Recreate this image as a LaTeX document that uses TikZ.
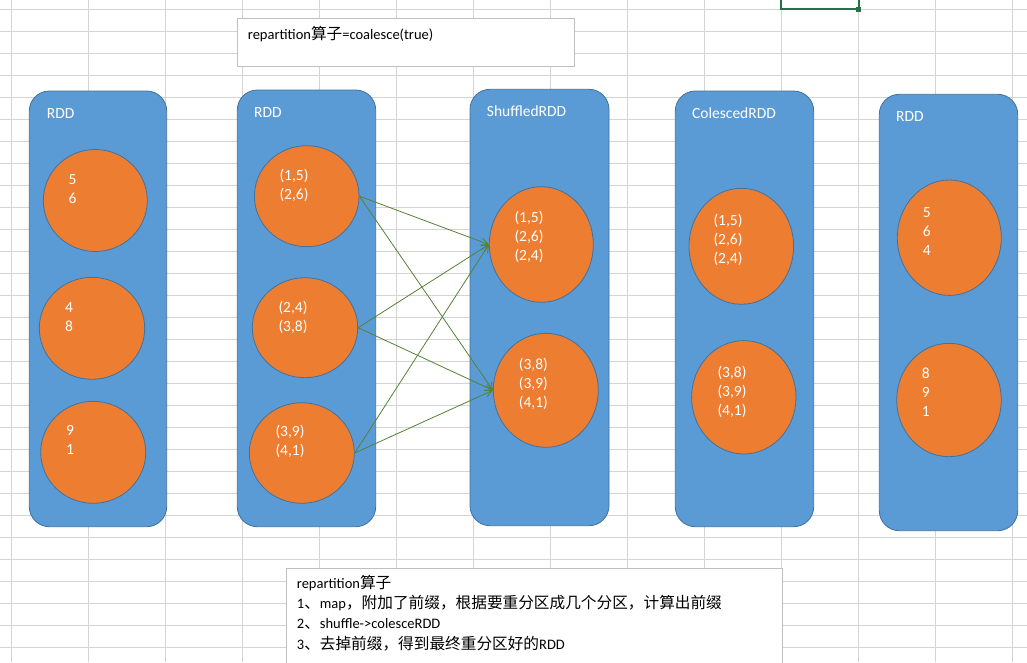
\documentclass[tikz,border=0pt]{standalone}
\usepackage{fontspec}
\setmainfont{Carlito}
\newfontfamily\cjk{Noto Sans CJK SC}[Scale=1.08]
\usetikzlibrary{shapes.geometric,arrows.meta}
\definecolor{gridc}{HTML}{D4D4D4}
\definecolor{boxfill}{HTML}{5B9BD5}
\definecolor{boxline}{HTML}{41719C}
\definecolor{partfill}{HTML}{ED7D31}
\definecolor{arrowc}{HTML}{548235}
\definecolor{selc}{HTML}{217346}
\definecolor{tboxline}{HTML}{BFBFBF}
\newcommand\zh[1]{{\cjk #1}}
\newcommand\stk[1]{\begin{tabular}[t]{@{}l@{}}#1\end{tabular}}
\tikzset{
  rddbox/.style={draw=boxline, fill=boxfill, line width=0.8pt, rounded corners=20pt, inner sep=0pt},
  partc/.style={ellipse, draw=boxline, fill=partfill, line width=0.8pt, inner sep=0pt},
  wlabel/.style={text=white, inner sep=0pt, anchor=base west, font=\fontsize{15.5}{19}\selectfont},
  tbox/.style={draw=tboxline, fill=white, line width=0.8pt, inner sep=0pt},
  btext/.style={text=black, inner sep=0pt, anchor=base west, font=\fontsize{14.5}{20.2}\selectfont},
  flow/.style={draw=arrowc, line width=0.8pt, -{Straight Barb[length=7pt,width=7pt]}},
}
\begin{document}
\begin{tikzpicture}[x=1pt,y=-1pt]
\useasboundingbox (0,0) rectangle (1027,662);
\clip (0,0) rectangle (1027,662);
% spreadsheet grid
\foreach \k in {0,...,13} \draw[gridc, line width=0.8pt] ({11.7+77*\k},0) -- ({11.7+77*\k},662);
\foreach \k in {0,...,29} \draw[gridc, line width=0.8pt] (0,{9.3+22*\k}) -- (1027,{9.3+22*\k});
% selected cell
\draw[selc, line width=2pt] (781.3,-2) -- (781.3,9.3) -- (858.7,9.3) -- (858.7,-2);
\fill[selc] (856.2,6.6) rectangle (861.2,11.6);

% top text box
\node[tbox, minimum width=337pt, minimum height=47.7pt] (T1) at (405.8,42.15) {};
\node[btext] (T1t) at (247.7,39.5) {repartition\zh{算子}=coalesce(true)};

% boxes
\node[rddbox, minimum width=137.4pt, minimum height=435.7pt] (B1) at (98,308.85) {};
\node[rddbox, minimum width=138.4pt, minimum height=436.7pt] (B2) at (306.5,308.35) {};
\node[rddbox, minimum width=139pt, minimum height=436.4pt] (B3) at (539.5,307.5) {};
\node[rddbox, minimum width=138.4pt, minimum height=435.7pt] (B4) at (744.5,308.85) {};
\node[rddbox, minimum width=138.4pt, minimum height=436.4pt] (B5) at (948.5,312.5) {};

\node[wlabel] (L1) at (46.7,118.3) {RDD};
\node[wlabel] (L2) at (254,117) {RDD};
\node[wlabel] (L3) at (486.7,116) {ShuffledRDD};
\node[wlabel] (L4) at (692,118.3) {ColescedRDD};
\node[wlabel] (L5) at (896,121) {RDD};

% partitions
\node[partc, minimum width=104pt, minimum height=102pt] (P11) at (95.3,200.5) {};
\node[partc, minimum width=105.4pt, minimum height=102pt] (P12) at (92,328.3) {};
\node[partc, minimum width=105pt, minimum height=102pt] (P13) at (93.2,452.3) {};

\node[partc, minimum width=104.6pt, minimum height=101pt] (P21) at (306.7,196.2) {};
\node[partc, minimum width=105.4pt, minimum height=100pt] (P22) at (305,327.7) {};
\node[partc, minimum width=105pt, minimum height=100.6pt] (P23) at (301.8,453) {};

\node[partc, minimum width=104pt, minimum height=115.6pt] (P31) at (541.3,244.5) {};
\node[partc, minimum width=105pt, minimum height=114pt] (P32) at (545.8,390.3) {};

\node[partc, minimum width=104.6pt, minimum height=116pt] (P41) at (741.3,246.3) {};
\node[partc, minimum width=104.4pt, minimum height=113.4pt] (P42) at (743.8,397.3) {};

\node[partc, minimum width=104pt, minimum height=115.4pt] (P51) at (949.3,237.7) {};
\node[partc, minimum width=104.6pt, minimum height=113.4pt] (P52) at (949,400) {};

% partition contents
\node[wlabel] (X11) at (68.3,184.2) {\stk{5\\6}};
\node[wlabel] (X12) at (65,312.6) {\stk{4\\8}};
\node[wlabel] (X13) at (66,435.6) {\stk{9\\1}};

\node[wlabel] (X21) at (279.3,180.3) {\stk{(1,5)\\(2,6)}};
\node[wlabel] (X22) at (278.3,312.3) {\stk{(2,4)\\(3,8)}};
\node[wlabel] (X23) at (275.3,436.9) {\stk{(3,9)\\(4,1)}};

\node[wlabel] (X31) at (514.3,222.9) {\stk{(1,5)\\(2,6)\\(2,4)}};
\node[wlabel] (X32) at (518.7,369.9) {\stk{(3,8)\\(3,9)\\(4,1)}};

\node[wlabel] (X41) at (713.3,225.3) {\stk{(1,5)\\(2,6)\\(2,4)}};
\node[wlabel] (X42) at (717.3,377.3) {\stk{(3,8)\\(3,9)\\(4,1)}};

\node[wlabel] (X51) at (922.7,217.2) {\stk{5\\6\\4}};
\node[wlabel] (X52) at (921.7,378.9) {\stk{8\\9\\1}};

% shuffle arrows
\foreach \s in {P21,P22,P23} {
  \draw[flow] (\s.east) -- (P31.west);
  \draw[flow] (\s.east) -- (P32.west);
}

% bottom text box
\node[tbox, minimum width=496.3pt, minimum height=101.7pt] (T2) at (534.15,619.15) {};
\node[btext] (T2t) at (296.7,588.5) {\begin{tabular}[t]{@{}l@{}}
repartition\zh{算子}\\
1\zh{、}map\zh{，附加了前缀，根据要重分区成几个分区，计算出前缀}\\
2\zh{、}shuffle->colesceRDD\\
3\zh{、去掉前缀，得到最终重分区好的}RDD
\end{tabular}};
\end{tikzpicture}
\end{document}
